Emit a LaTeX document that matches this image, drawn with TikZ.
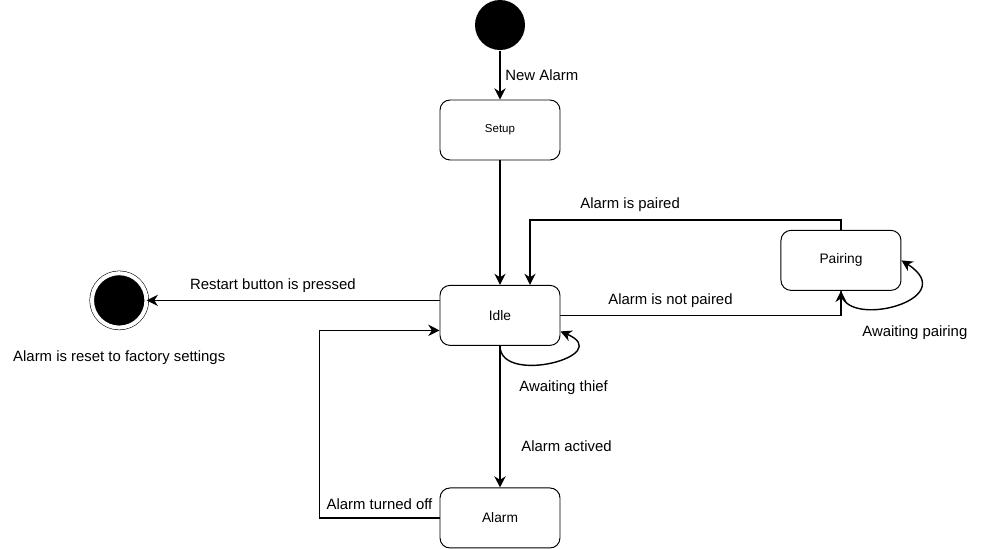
\documentclass[tikz,border=0pt]{standalone}
\usepackage{fontspec}
\setmainfont{Liberation Sans}
\usetikzlibrary{arrows.meta,positioning}

\begin{document}
\begin{tikzpicture}[->,>={Stealth[length=2.8mm,width=2.8mm,inset=0.9mm]},line width=1pt,
  state/.style={draw,rounded corners=0.25cm,minimum width=3cm,minimum height=1.5cm,line width=0.7pt,font=\fontsize{9.8}{11}\selectfont},
  startdot/.style={circle,fill=black,minimum size=1.25cm,inner sep=0pt},
  enddot/.style={circle,fill=black,draw=black,double=white,double distance=0.1cm,line width=0.4pt,minimum size=1.36cm,inner sep=0pt},
  lbl/.style={font=\fontsize{10.6}{12}\selectfont}]

  \useasboundingbox (0,0) rectangle (24.525,-13.7);

  \node[startdot] (start) at (12.5,-0.625) {};
  \node[state] (setup) [below=1.22cm of start] {\fontsize{8.2}{10}\selectfont Setup};
  \node[state] (idle) [below=3.11cm of setup] {Idle};
  \node[state] (alarm) [below=3.54cm of idle] {Alarm};
  \node[state] (pairing) [right=5.5cm of idle,yshift=1.375cm] {Pairing};
  \node[enddot] (reset) [left=7.32cm of idle,yshift=0.375cm] {};
  \node[lbl] (resetnote) [below=0.43cm of reset] {Alarm is reset to factory settings};

  \draw[every node/.style={lbl}]
    (start) -- node[right] {New Alarm} (setup);
  \draw (setup) -- (idle);
  \draw[every node/.style={lbl}]
    (pairing.north) -- ++(0,0.25) -| node[pos=0.339,above=2pt] {Alarm is paired} ([xshift=0.75cm]idle.north);
  \draw[every node/.style={lbl}]
    (idle.east) -| node[pos=0.196,above=2pt] {Alarm is not paired} (pairing.south);
  \draw[every node/.style={lbl}]
    ([yshift=0.375cm]idle.west) -- node[pos=0.569,above=2pt] {Restart button is pressed} (reset);
  \draw[every node/.style={lbl}]
    (idle) -- node[pos=0.71,right=0.4cm] {Alarm actived} (alarm);
  \draw[every node/.style={lbl}]
    (alarm.west) -- node[midway,above=2pt] {Alarm turned off} ++(-3,0) |- ([yshift=-0.375cm]idle.west);

  % self loops
  \draw[every node/.style={lbl}]
    (idle.south) .. controls +(0,-1.0) and +(1.4,-0.6) .. node[below=0.31cm,xshift=0.31cm] {Awaiting thief} ([yshift=-0.4cm]idle.east);
  \draw[every node/.style={lbl}]
    (pairing.south) .. controls +(0,-1.0) and +(1.575,-1.0) .. node[below=0.36cm,xshift=0.5cm] {Awaiting pairing} (pairing.east);

\end{tikzpicture}
\end{document}
